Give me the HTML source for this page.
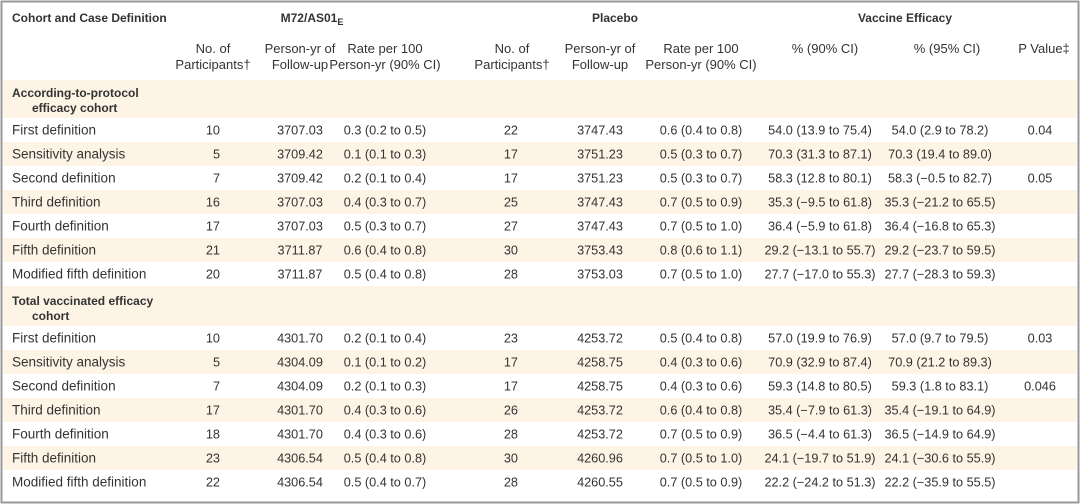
<!DOCTYPE html>
<html><head><meta charset="utf-8"><style>
html,body{margin:0;padding:0;background:#fff}
svg{display:block}
text{font-family:"Liberation Sans",sans-serif;font-size:12.7px;fill:#333}
.b{font-weight:bold;font-size:12px}
.l{font-size:13.5px}
.h{font-size:13px}
</style></head><body>
<svg width="1080" height="504" viewBox="0 0 1080 504" xmlns="http://www.w3.org/2000/svg">
<rect x="0" y="0" width="1080" height="504" fill="#fff"/>
<g fill="#fdf4e6">
<rect x="3" y="80" width="1074" height="38"/>
<rect x="3" y="142" width="1074" height="24"/>
<rect x="3" y="190" width="1074" height="24"/>
<rect x="3" y="238" width="1074" height="24"/>
<rect x="3" y="286" width="1074" height="40"/>
<rect x="3" y="350" width="1074" height="24"/>
<rect x="3" y="398" width="1074" height="24"/>
<rect x="3" y="446" width="1074" height="24"/>
</g>
<rect x="1.5" y="1.5" width="1077" height="501" fill="none" stroke="#999" stroke-width="2"/>
<text x="12" y="22" class="b">Cohort and Case Definition</text>
<text x="312" y="22" class="b" text-anchor="middle">M72/AS01<tspan font-size="9" dy="3">E</tspan></text>
<text x="615" y="22" class="b" text-anchor="middle">Placebo</text>
<text x="905" y="22" class="b" text-anchor="middle">Vaccine Efficacy</text>
<g text-anchor="middle" class="h">
<text x="213" y="53" class="h">No. of</text><text x="213" y="69" class="h">Participants†</text>
<text x="300" y="53" class="h">Person-yr of</text><text x="300" y="69" class="h">Follow-up</text>
<text x="385" y="53" class="h">Rate per 100</text><text x="385" y="69" class="h">Person-yr (90% CI)</text>
<text x="512" y="53" class="h">No. of</text><text x="512" y="69" class="h">Participants†</text>
<text x="600" y="53" class="h">Person-yr of</text><text x="600" y="69" class="h">Follow-up</text>
<text x="701" y="53" class="h">Rate per 100</text><text x="701" y="69" class="h">Person-yr (90% CI)</text>
<text x="825" y="53" class="h">% (90% CI)</text>
<text x="947" y="53" class="h">% (95% CI)</text>
<text x="1044" y="53" class="h">P Value‡</text>
</g>
<text x="12" y="97" class="b">According-to-protocol</text>
<text x="32" y="112" class="b">efficacy cohort</text>
<text x="12" y="305" class="b">Total vaccinated efficacy</text>
<text x="32" y="320" class="b">cohort</text>
<g id="rows"></g>
</svg>
<script>
const d=[
["First definition","10","3707.03","0.3 (0.2 to 0.5)","22","3747.43","0.6 (0.4 to 0.8)","54.0 (13.9 to 75.4)","54.0 (2.9 to 78.2)","0.04"],
["Sensitivity analysis","5","3709.42","0.1 (0.1 to 0.3)","17","3751.23","0.5 (0.3 to 0.7)","70.3 (31.3 to 87.1)","70.3 (19.4 to 89.0)",""],
["Second definition","7","3709.42","0.2 (0.1 to 0.4)","17","3751.23","0.5 (0.3 to 0.7)","58.3 (12.8 to 80.1)","58.3 (−0.5 to 82.7)","0.05"],
["Third definition","16","3707.03","0.4 (0.3 to 0.7)","25","3747.43","0.7 (0.5 to 0.9)","35.3 (−9.5 to 61.8)","35.3 (−21.2 to 65.5)",""],
["Fourth definition","17","3707.03","0.5 (0.3 to 0.7)","27","3747.43","0.7 (0.5 to 1.0)","36.4 (−5.9 to 61.8)","36.4 (−16.8 to 65.3)",""],
["Fifth definition","21","3711.87","0.6 (0.4 to 0.8)","30","3753.43","0.8 (0.6 to 1.1)","29.2 (−13.1 to 55.7)","29.2 (−23.7 to 59.5)",""],
["Modified fifth definition","20","3711.87","0.5 (0.4 to 0.8)","28","3753.03","0.7 (0.5 to 1.0)","27.7 (−17.0 to 55.3)","27.7 (−28.3 to 59.3)",""],
["First definition","10","4301.70","0.2 (0.1 to 0.4)","23","4253.72","0.5 (0.4 to 0.8)","57.0 (19.9 to 76.9)","57.0 (9.7 to 79.5)","0.03"],
["Sensitivity analysis","5","4304.09","0.1 (0.1 to 0.2)","17","4258.75","0.4 (0.3 to 0.6)","70.9 (32.9 to 87.4)","70.9 (21.2 to 89.3)",""],
["Second definition","7","4304.09","0.2 (0.1 to 0.3)","17","4258.75","0.4 (0.3 to 0.6)","59.3 (14.8 to 80.5)","59.3 (1.8 to 83.1)","0.046"],
["Third definition","17","4301.70","0.4 (0.3 to 0.6)","26","4253.72","0.6 (0.4 to 0.8)","35.4 (−7.9 to 61.3)","35.4 (−19.1 to 64.9)",""],
["Fourth definition","18","4301.70","0.4 (0.3 to 0.6)","28","4253.72","0.7 (0.5 to 0.9)","36.5 (−4.4 to 61.3)","36.5 (−14.9 to 64.9)",""],
["Fifth definition","23","4306.54","0.5 (0.4 to 0.8)","30","4260.96","0.7 (0.5 to 1.0)","24.1 (−19.7 to 51.9)","24.1 (−30.6 to 55.9)",""],
["Modified fifth definition","22","4306.54","0.5 (0.4 to 0.7)","28","4260.55","0.7 (0.5 to 0.9)","22.2 (−24.2 to 51.3)","22.2 (−35.9 to 55.5)",""]];
const xs=[[12,"start"],[220,"end"],[300,"middle"],[385,"middle"],[518,"end"],[600,"middle"],[701,"middle"],[820,"middle"],[940,"middle"],[1040,"middle"]];
let h="";
d.forEach((r,i)=>{const y=(i<7?130+24*i:338+24*(i-7))+4.5;
r.forEach((t,j)=>{if(t)h+=`<text x="${xs[j][0]}" y="${y}" text-anchor="${xs[j][1]}"${j==0?' class="l"':''}>${t}</text>`;});});
document.getElementById("rows").innerHTML=h;
</script>
</body></html>
